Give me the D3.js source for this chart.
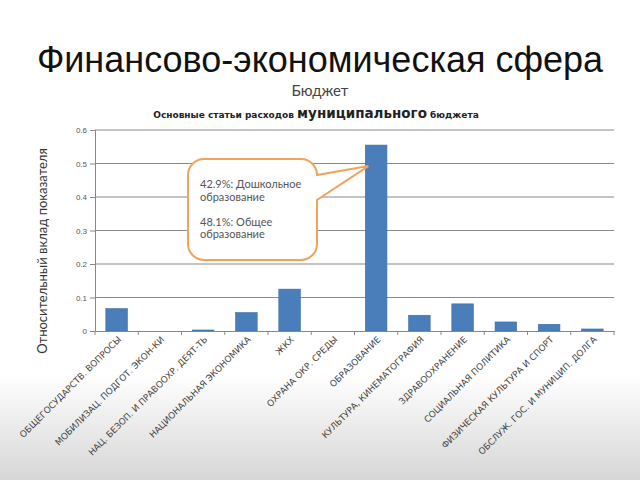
<!DOCTYPE html>
<html><head><meta charset="utf-8">
<script src="https://cdn.jsdelivr.net/npm/d3@7"></script>
<style>html,body{margin:0;padding:0;background:#fff;}svg{display:block;}</style>
</head><body>
<script>
const categories = [
  "ОБЩЕГОСУДАРСТВ. ВОПРОСЫ",
  "МОБИЛИЗАЦ. ПОДГОТ. ЭКОН-КИ",
  "НАЦ. БЕЗОП. И ПРАВООХР. ДЕЯТ-ТЬ",
  "НАЦИОНАЛЬНАЯ ЭКОНОМИКА",
  "ЖКХ",
  "ОХРАНА ОКР. СРЕДЫ",
  "ОБРАЗОВАНИЕ",
  "КУЛЬТУРА, КИНЕМАТОГРАФИЯ",
  "ЗДРАВООХРАНЕНИЕ",
  "СОЦИАЛЬНАЯ ПОЛИТИКА",
  "ФИЗИЧЕСКАЯ КУЛЬТУРА И СПОРТ",
  "ОБСЛУЖ. ГОС. И МУНИЦИП. ДОЛГА"
];
const values = [0.067, 0, 0.003, 0.055, 0.125, 0, 0.555, 0.047, 0.081, 0.027, 0.020, 0.006];
const yTicks = [0, 0.1, 0.2, 0.3, 0.4, 0.5, 0.6];
const calloutLines = ["42.9%: Дошкольное", "образование", "", "48.1%: Общее", "образование"];
const calloutTarget = "ОБРАЗОВАНИЕ";

const W = 640, H = 480;
const svg = d3.select("body").append("svg").attr("width", W).attr("height", H);

const defs = svg.append("defs");
const grad = defs.append("linearGradient").attr("id","bg").attr("x1",0).attr("y1",0).attr("x2",0).attr("y2",1);
grad.append("stop").attr("offset","0%").attr("stop-color","#ffffff");
grad.append("stop").attr("offset","78%").attr("stop-color","#ffffff");
grad.append("stop").attr("offset","100%").attr("stop-color","#d6d6d6");
svg.append("rect").attr("width",W).attr("height",H).attr("fill","url(#bg)");

// Titles
svg.append("text").attr("x",320).attr("y",72).attr("text-anchor","middle")
  .attr("font-family","Liberation Sans, Arial, sans-serif").attr("font-size",36).attr("fill","#111")
  .text("Финансово-экономическая сфера");
svg.append("text").attr("x",320).attr("y",96).attr("text-anchor","middle")
  .attr("font-family","Lato, Liberation Sans, sans-serif").attr("font-size",15).attr("fill","#444")
  .text("Бюджет");
const st = svg.append("text").attr("x",316).attr("y",118).attr("text-anchor","middle")
  .attr("font-family","DejaVu Sans, sans-serif").attr("fill","#222").attr("font-weight","bold");
st.append("tspan").attr("font-size",9).text("Основные статьи расходов ");
st.append("tspan").attr("font-size",13.5).text("муниципального");
st.append("tspan").attr("font-size",9).text(" бюджета");

const m = {left:95, right:614, top:130, bottom:331};
const x = d3.scaleBand().domain(categories).range([m.left, m.right]).paddingInner(0.5).paddingOuter(0.25);
const y = d3.scaleLinear().domain([0, 0.6]).range([m.bottom, m.top]);

// grid
svg.append("g").selectAll("line").data(yTicks.filter(d=>d>0)).join("line")
  .attr("x1",m.left).attr("x2",m.right).attr("y1",d=>y(d)).attr("y2",d=>y(d))
  .attr("stroke","#8a8a8a").attr("stroke-width",1.2);

// y axis
const yAxis = svg.append("g").attr("transform",`translate(${m.left},0)`)
  .call(d3.axisLeft(y).tickValues(yTicks).tickFormat(d=>d===0?"0":d3.format(".1f")(d)).tickSize(5).tickPadding(3));
yAxis.select(".domain").attr("stroke","#888");
yAxis.selectAll(".tick line").attr("stroke","#888");
yAxis.selectAll("text").attr("font-family","Liberation Sans, Arial, sans-serif").attr("font-size",8).attr("fill","#555");

// bars
svg.append("g").selectAll("rect").data(categories).join("rect")
  .attr("x",d=>x(d)).attr("width",x.bandwidth())
  .attr("y",(d,i)=>y(values[i])).attr("height",(d,i)=>y(0)-y(values[i]))
  .attr("fill","#4a7ebb").attr("stroke","#3d6ea8").attr("stroke-width",0.6);

// x axis
const xAxis = svg.append("g").attr("transform",`translate(0,${m.bottom})`)
  .call(d3.axisBottom(x).tickSize(0).tickFormat(""));
xAxis.select(".domain").attr("stroke","#888");
const step = x.step();
const bounds = d3.range(categories.length+1).map(i=>m.left + i*step);
svg.append("g").selectAll("line").data(bounds).join("line")
  .attr("x1",d=>d).attr("x2",d=>d).attr("y1",m.bottom).attr("y2",m.bottom+4)
  .attr("stroke","#888");
svg.append("g").selectAll("text").data(categories).join("text")
  .attr("transform",d=>`translate(${x(d)+x.bandwidth()/2+5},${m.bottom+9}) rotate(-45)`)
  .attr("text-anchor","end")
  .attr("font-family","DejaVu Sans, sans-serif").attr("font-size",8.8).attr("fill","#444")
  .text(d=>d);

// y title
svg.append("text").attr("transform","translate(47,251) rotate(-90)").attr("text-anchor","middle")
  .attr("font-family","Lato, DejaVu Sans, sans-serif").attr("font-size",13).attr("fill","#333")
  .text("Относительный вклад показателя");

// callout
const ti = categories.indexOf(calloutTarget);
const tipX = x(calloutTarget) + 3, tipY = y(values[ti]) + 21;
const bx0 = 188, bx1 = 317, by0 = 159, by1 = 260, r = 16;
const p = d3.path();
p.moveTo(bx0 + r, by0);
p.lineTo(bx1 - r, by0);
p.arcTo(bx1, by0, bx1, by0 + r, r);
p.lineTo(bx1, 175);
p.lineTo(tipX, tipY);
p.lineTo(bx1, 200);
p.lineTo(bx1, by1 - r);
p.arcTo(bx1, by1, bx1 - r, by1, r);
p.lineTo(bx0 + r, by1);
p.arcTo(bx0, by1, bx0, by1 - r, r);
p.lineTo(bx0, by0 + r);
p.arcTo(bx0, by0, bx0 + r, by0, r);
p.closePath();
svg.append("path").attr("d",p.toString()).attr("fill","#fff").attr("stroke","#f0a35a").attr("stroke-width",2);
const ct = svg.append("text").attr("font-family","Lato, DejaVu Sans, sans-serif").attr("font-size",11).attr("fill","#555");
calloutLines.forEach((l,i)=>{
  ct.append("tspan").attr("x",200).attr("y",188 + i*12.5).text(l);
});
</script>
</body></html>
